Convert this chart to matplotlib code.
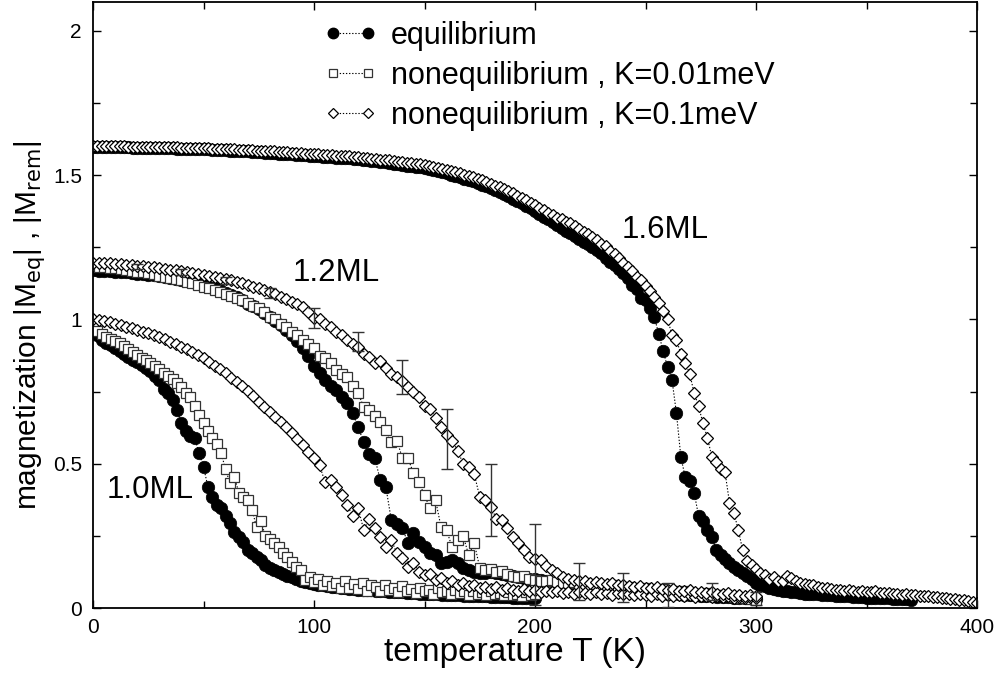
import numpy as np
import matplotlib
matplotlib.use("Agg")
import matplotlib.pyplot as plt
from matplotlib.lines import Line2D
from matplotlib.ticker import MultipleLocator, FixedLocator

plt.rcParams['font.family'] = ['Liberation Sans', 'DejaVu Sans']

# ---------------- data ----------------
# 1.6 ML, temperature grid (K)
T16_eq = np.arange(0, 371, 2)
M16_eq = [1.598,1.598,1.598,1.597,1.597,1.597,1.596,1.596,1.596,1.595,1.595,
          1.595,1.595,1.595,1.594,1.594,1.594,1.593,1.593,1.592,1.592,
          1.591,1.591,1.590,1.590,1.589,1.589,1.588,1.588,1.587,1.586,
          1.584,1.584,1.583,1.582,1.582,1.581,1.580,1.579,1.578,1.578,
          1.576,1.575,1.574,1.573,1.572,1.571,1.570,1.569,1.568,1.567,
          1.565,1.564,1.563,1.562,1.561,1.560,1.559,1.558,1.556,1.555,
          1.552,1.551,1.549,1.548,1.546,1.544,1.542,1.540,1.538,1.535,
          1.533,1.531,1.529,1.527,1.524,1.521,1.518,1.515,1.511,1.507,
          1.502,1.498,1.493,1.488,1.483,1.478,1.472,1.467,1.461,1.455,
          1.448,1.442,1.434,1.427,1.419,1.411,1.402,1.394,1.385,1.375,
          1.365,1.356,1.347,1.337,1.327,1.318,1.308,1.300,1.290,1.280,
          1.270,1.260,1.250,1.240,1.230,1.214,1.200,1.190,1.176,1.160,
          1.143,1.120,1.105,1.075,1.066,1.040,1.007,0.950,0.890,0.834,
          0.790,0.675,0.523,0.453,0.440,0.400,0.320,0.300,0.270,0.246,
          0.200,0.185,0.170,0.155,0.142,0.130,0.120,0.110,0.100,0.086,
          0.080,0.075,0.070,0.066,0.062,0.060,0.058,0.056,0.054,0.052,
          0.050,0.049,0.048,0.047,0.046,0.045,0.044,0.043,0.042,0.041,
          0.040,0.039,0.038,0.037,0.036,0.036,0.035,0.034,0.033,0.033,
          0.032,0.031,0.030,0.030,0.029]

T16_k01 = np.arange(0, 401, 2)
M16_k01 = [1.602,1.602,1.601,1.601,1.601,1.600,1.600,1.600,1.599,1.599,1.599,
           1.598,1.598,1.598,1.597,1.597,1.597,1.596,1.596,1.596,1.595,
           1.595,1.595,1.594,1.594,1.593,1.593,1.592,1.592,1.591,1.590,
           1.589,1.589,1.588,1.587,1.587,1.586,1.585,1.584,1.583,1.583,
           1.582,1.581,1.580,1.579,1.578,1.577,1.576,1.575,1.574,1.573,
           1.572,1.571,1.570,1.569,1.568,1.567,1.566,1.565,1.563,1.562,
           1.560,1.559,1.557,1.556,1.554,1.553,1.551,1.549,1.547,1.545,
           1.543,1.541,1.539,1.537,1.535,1.532,1.529,1.526,1.522,1.518,
           1.514,1.510,1.506,1.501,1.497,1.492,1.487,1.482,1.476,1.470,
           1.464,1.458,1.451,1.444,1.437,1.429,1.421,1.413,1.404,1.395,
           1.386,1.378,1.370,1.361,1.352,1.348,1.337,1.335,1.323,1.315,
           1.303,1.296,1.284,1.275,1.262,1.255,1.237,1.226,1.212,1.196,
           1.180,1.168,1.148,1.136,1.117,1.100,1.078,1.058,1.030,1.002,
           0.945,0.930,0.880,0.850,0.812,0.745,0.700,0.640,0.590,0.525,
           0.505,0.482,0.470,0.365,0.330,0.270,0.200,0.162,0.150,0.136,
           0.120,0.115,0.100,0.108,0.092,0.095,0.112,0.105,0.094,0.086,
           0.082,0.078,0.080,0.072,0.070,0.068,0.066,0.064,0.062,0.060,
           0.061,0.058,0.057,0.060,0.055,0.054,0.058,0.052,0.053,0.051,
           0.049,0.050,0.046,0.047,0.044,0.045,0.042,0.041,0.040,0.038,
           0.037,0.035,0.036,0.032,0.030,0.028,0.027,0.024,0.020,0.016]

# 1.2 ML
T12 = np.arange(0, 301, 2.5)
M12_eq = [1.170,1.169,1.168,1.167,1.166,1.165,1.163,1.161,1.159,1.157,
          1.155,1.153,1.150,1.147,1.144,1.141,1.138,1.134,1.130,1.125,
          1.120,1.114,1.108,1.101,1.093,1.085,1.076,1.066,1.055,1.045,
          1.035,1.022,1.010,0.995,0.980,0.962,0.945,0.925,0.900,0.875,
          0.840,0.815,0.790,0.770,0.754,0.730,0.712,0.675,0.626,0.575,
          0.535,0.520,0.443,0.420,0.304,0.290,0.277,0.225,0.260,0.228,
          0.210,0.190,0.183,0.156,0.160,0.166,0.156,0.140,0.130,0.125,
          0.120,0.122,0.125,0.120,0.118,0.115,0.112,0.108,0.105,0.102,
          0.100,0.098,0.095,0.092,0.090,0.088,0.085,0.082,0.080,0.078,
          0.076,0.074,0.072,0.070,0.068,0.066,0.064,0.062,0.060,0.058,
          0.056,0.055,0.054,0.052,0.050,0.049,0.048,0.046,0.045,0.044,
          0.042,0.041,0.040,0.039,0.038,0.037,0.036,0.035,0.034,0.033,
          0.032]
M12_k001 = [1.185,1.183,1.181,1.179,1.177,1.175,1.172,1.169,1.166,1.163,
            1.160,1.156,1.152,1.148,1.144,1.140,1.135,1.130,1.125,1.120,
            1.114,1.108,1.102,1.096,1.089,1.082,1.075,1.066,1.058,1.048,
            1.038,1.027,1.010,1.000,0.985,0.975,0.958,0.945,0.928,0.915,
            0.900,0.872,0.865,0.850,0.824,0.812,0.800,0.770,0.745,0.696,
            0.685,0.665,0.644,0.616,0.575,0.580,0.520,0.520,0.467,0.436,
            0.390,0.346,0.374,0.280,0.270,0.210,0.235,0.250,0.183,0.225,
            0.140,0.130,0.135,0.125,0.128,0.118,0.112,0.107,0.110,0.100,
            0.097,0.095,0.092,0.098,0.090,0.088,0.085,0.090,0.082,0.080,
            0.078,0.082,0.076,0.074,0.078,0.072,0.070,0.074,0.068,0.066,
            0.070,0.064,0.062,0.066,0.060,0.058,0.055,0.058,0.052,0.050,
            0.048,0.052,0.045,0.044,0.046,0.040,0.038,0.036,0.034,0.032,
            0.028]
M12_k01 = [1.197,1.196,1.195,1.194,1.193,1.191,1.190,1.188,1.186,1.184,
           1.182,1.180,1.178,1.176,1.173,1.171,1.168,1.165,1.162,1.159,
           1.155,1.152,1.148,1.144,1.140,1.135,1.130,1.125,1.120,1.114,
           1.108,1.101,1.094,1.087,1.079,1.070,1.061,1.052,1.042,1.025,
           1.005,1.000,0.985,0.975,0.955,0.945,0.930,0.915,0.905,0.880,
           0.870,0.850,0.855,0.830,0.810,0.800,0.785,0.765,0.750,0.730,
           0.700,0.690,0.660,0.627,0.600,0.580,0.545,0.500,0.490,0.465,
           0.384,0.374,0.350,0.310,0.305,0.277,0.245,0.225,0.200,0.177,
           0.170,0.166,0.145,0.130,0.120,0.107,0.100,0.097,0.092,0.095,
           0.088,0.090,0.085,0.082,0.086,0.078,0.080,0.075,0.072,0.076,
           0.070,0.068,0.072,0.065,0.062,0.066,0.060,0.058,0.062,0.055,
           0.056,0.052,0.054,0.050,0.048,0.052,0.045,0.046,0.042,0.044,
           0.040]
# error bars on the 1.2 ML, K=0.1meV curve
T12_err = [20, 40, 60, 80, 100, 120, 140, 160, 180, 200, 220, 240, 260, 280, 300]
M12_err_hi = [1.192, 1.175, 1.146, 1.110, 1.040, 0.955, 0.860, 0.690, 0.500, 0.290,
              0.156, 0.120, 0.086, 0.086, 0.055]
M12_err_lo = [1.176, 1.155, 1.124, 1.075, 0.970, 0.890, 0.740, 0.480, 0.250, 0.010,
              0.028, 0.020, 0.003, 0.028, 0.012]

# 1.0 ML
T10 = np.arange(0, 201, 2)
M10_eq = [0.960,0.945,0.930,0.920,0.910,0.900,0.890,0.880,0.870,0.860,
          0.852,0.843,0.833,0.820,0.805,0.790,0.760,0.745,0.720,0.685,
          0.640,0.612,0.595,0.588,0.536,0.490,0.420,0.384,0.356,0.345,
          0.320,0.294,0.265,0.246,0.228,0.200,0.190,0.176,0.165,0.150,
          0.140,0.130,0.125,0.118,0.112,0.107,0.100,0.095,0.090,0.086,
          0.082,0.080,0.078,0.076,0.074,0.072,0.070,0.068,0.066,0.065,
          0.064,0.063,0.062,0.061,0.060,0.059,0.058,0.057,0.056,0.055,
          0.054,0.053,0.052,0.051,0.050,0.050,0.049,0.048,0.047,0.046,
          0.046,0.045,0.044,0.044,0.043,0.042,0.042,0.041,0.040,0.040,
          0.039,0.039,0.038,0.037,0.037,0.036,0.036,0.035,0.035,0.034,
          0.034]
M10_k001 = [0.975,0.960,0.950,0.940,0.932,0.925,0.917,0.908,0.898,0.888,
            0.878,0.868,0.858,0.848,0.838,0.828,0.816,0.805,0.793,0.780,
            0.765,0.745,0.730,0.700,0.670,0.640,0.615,0.590,0.570,0.536,
            0.480,0.432,0.453,0.400,0.384,0.374,0.340,0.280,0.300,0.250,
            0.240,0.225,0.210,0.190,0.176,0.160,0.142,0.130,0.097,0.107,
            0.090,0.100,0.080,0.095,0.075,0.088,0.070,0.092,0.068,0.082,
            0.065,0.085,0.060,0.078,0.072,0.058,0.080,0.062,0.070,0.055,
            0.075,0.060,0.066,0.052,0.070,0.058,0.062,0.050,0.068,0.055,
            0.060,0.048,0.064,0.052,0.058,0.046,0.060,0.050,0.055,0.045,
            0.058,0.048,0.052,0.044,0.056,0.046,0.050,0.042,0.054,0.045,
            0.048]
T10_k01 = np.arange(0, 301, 2.5)
M10_k01 = [1.000,0.998,0.994,0.990,0.985,0.980,0.975,0.970,0.964,0.958,
           0.952,0.945,0.938,0.931,0.923,0.915,0.906,0.897,0.887,0.876,
           0.865,0.853,0.840,0.827,0.813,0.798,0.783,0.768,0.752,0.736,
           0.715,0.698,0.680,0.662,0.644,0.626,0.605,0.585,0.565,0.540,
           0.520,0.495,0.436,0.445,0.420,0.390,0.356,0.320,0.346,0.270,
           0.310,0.277,0.246,0.210,0.235,0.190,0.173,0.142,0.155,0.125,
           0.114,0.118,0.097,0.105,0.086,0.092,0.080,0.085,0.075,0.078,
           0.070,0.074,0.066,0.072,0.064,0.068,0.062,0.060,0.066,0.058,
           0.062,0.056,0.060,0.054,0.058,0.052,0.057,0.050,0.055,0.053,
           0.050,0.055,0.048,0.052,0.046,0.051,0.047,0.050,0.044,0.049,
           0.046,0.043,0.048,0.042,0.045,0.040,0.046,0.041,0.044,0.039,
           0.043,0.040,0.038,0.042,0.037,0.041,0.036,0.039,0.035,0.038,
           0.034]

legend_labels = ["equilibrium", "nonequilibrium , K=0.01meV", "nonequilibrium , K=0.1meV"]
curve_labels = [("1.0ML", 26, 0.41), ("1.2ML", 110, 1.16), ("1.6ML", 259, 1.31)]

# ---------------- styles ----------------
dot = (0, (1.2, 1.6))
eq_style = dict(color='black', lw=0.8, ls=dot, marker='o', ms=9, mfc='black', mec='black', mew=0.5)
sq_style = dict(color='black', lw=0.8, ls=dot, marker='s', ms=7.3, mfc='white', mec='#333333', mew=0.9)
di_style = dict(color='black', lw=0.8, ls=dot, marker='D', ms=5.8, mfc='white', mec='black', mew=0.9)

fig = plt.figure(figsize=(9.99, 6.75), dpi=100)
ax = fig.add_axes([93/999, 67/675, 884/999, 606/675])

# circles first, then squares, then diamonds
ax.plot(T10, M10_eq, **eq_style)
ax.plot(T12, M12_eq, **eq_style)
ax.plot(T16_eq, M16_eq, **eq_style)
ax.plot(T10, M10_k001, **sq_style)
ax.plot(T12, M12_k001, **sq_style)
ax.plot(T10_k01, M10_k01, **di_style)
ax.plot(T12, M12_k01, **di_style)
ax.plot(T16_k01, M16_k01, **di_style)

# error bars
mid = [(h + l) / 2 for h, l in zip(M12_err_hi, M12_err_lo)]
half = [(h - l) / 2 for h, l in zip(M12_err_hi, M12_err_lo)]
ax.errorbar(T12_err, mid, yerr=half, fmt='none', ecolor='#333333', elinewidth=1.0,
            capsize=4.5, capthick=1.0, zorder=5)

for txt, tx, ty in curve_labels:
    ax.text(tx, ty, txt, fontsize=22.5, ha='center', va='center')

ax.set_xlim(0, 400)
ax.set_ylim(0, 2.1)
ax.xaxis.set_major_locator(MultipleLocator(100))
ax.xaxis.set_minor_locator(MultipleLocator(50))
ax.yaxis.set_major_locator(FixedLocator([0, 0.5, 1, 1.5, 2]))
ax.yaxis.set_minor_locator(FixedLocator([0.25, 0.75, 1.25, 1.75]))
ax.set_yticklabels(["0", "0.5", "1", "1.5", "2"])
ax.tick_params(which='both', direction='in', top=True, right=True, width=1.0, labelsize=15)
ax.tick_params(which='major', length=6)
ax.tick_params(which='minor', length=5)
ax.tick_params(axis='x', pad=7.5)
ax.tick_params(axis='y', pad=8)
for s in ax.spines.values():
    s.set_linewidth(1.3)

ax.set_xlabel("temperature T (K)", fontsize=24)
ax.xaxis.set_label_coords(0.477, -0.0475)
ax.set_ylabel(r"magnetization |M$_{\mathrm{eq}}$| , |M$_{\mathrm{rem}}$|", fontsize=21.5)
ax.yaxis.set_label_coords(-0.052, 0.467)

handles = [
    Line2D([], [], color='black', lw=0.8, ls=dot, marker='o', ms=7.5, mfc='black', mec='black'),
    Line2D([], [], color='black', lw=0.8, ls=dot, marker='s', ms=6, mfc='white', mec='#333333', mew=0.9),
    Line2D([], [], color='black', lw=0.8, ls=dot, marker='D', ms=5, mfc='white', mec='black', mew=0.9),
]
ax.legend(handles, legend_labels, loc='upper left', bbox_to_anchor=((324-93)/884, (608-21)/606),
          frameon=False, numpoints=2, handlelength=1.75, handletextpad=0.45,
          labelspacing=0.33, borderpad=0, borderaxespad=0, fontsize=22)

fig.savefig("out.png", dpi=100)
